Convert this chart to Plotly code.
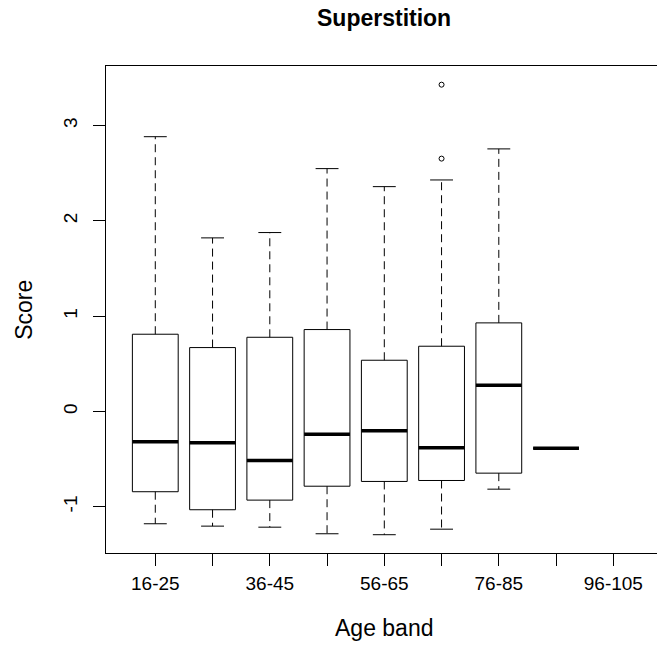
import plotly.graph_objects as go

# Age bands on the x axis (every band gets a tick, labels alternate)
age_bands = ["16-25", "26-35", "36-45", "46-55", "56-65",
             "66-75", "76-85", "86-95", "96-105"]

# Five-number summaries of the superstition score per age band
q1 = [-0.842, -1.031, -0.930, -0.784, -0.734, -0.724, -0.647, -0.385, None]
median = [-0.318, -0.328, -0.514, -0.238, -0.202, -0.381, 0.276, -0.385, None]
q3 = [0.811, 0.671, 0.779, 0.860, 0.538, 0.685, 0.930, -0.385, None]
whisker_low = [-1.178, -1.203, -1.214, -1.283, -1.293, -1.235, -0.815, -0.385, None]
whisker_high = [2.884, 1.822, 1.878, 2.549, 2.360, 2.430, 2.756, -0.385, None]

# Outlying points (band index, score)
outlier_band = [5, 5]
outlier_score = [3.430, 2.654]

BOX_HALF = 0.4
CAP_HALF = 0.2
FONT = "Liberation Sans, Arial, Helvetica, sans-serif"

box_x, box_y = [], []
med_x, med_y = [], []
wh_x, wh_y = [], []
cap_x, cap_y = [], []

for i in range(len(age_bands)):
    if median[i] is None:
        continue
    c = i + 1
    l, r = c - BOX_HALF, c + BOX_HALF
    # box outline
    box_x += [l, r, r, l, l, None]
    box_y += [q1[i], q1[i], q3[i], q3[i], q1[i], None]
    # median bar
    med_x += [l, r, None]
    med_y += [median[i], median[i], None]
    # dashed whiskers with solid caps
    if whisker_high[i] > q3[i]:
        wh_x += [c, c, None]
        wh_y += [q3[i], whisker_high[i], None]
        cap_x += [c - CAP_HALF, c + CAP_HALF, None]
        cap_y += [whisker_high[i], whisker_high[i], None]
    if whisker_low[i] < q1[i]:
        wh_x += [c, c, None]
        wh_y += [q1[i], whisker_low[i], None]
        cap_x += [c - CAP_HALF, c + CAP_HALF, None]
        cap_y += [whisker_low[i], whisker_low[i], None]

fig = go.Figure()
fig.add_trace(go.Scatter(x=wh_x, y=wh_y, mode="lines",
                         line=dict(color="black", width=1, dash="8px,5px"),
                         hoverinfo="skip"))
fig.add_trace(go.Scatter(x=cap_x, y=cap_y, mode="lines",
                         line=dict(color="black", width=1), hoverinfo="skip"))
fig.add_trace(go.Scatter(x=box_x, y=box_y, mode="lines",
                         line=dict(color="black", width=1), hoverinfo="skip"))
fig.add_trace(go.Scatter(x=med_x, y=med_y, mode="lines",
                         line=dict(color="black", width=3.5), hoverinfo="skip"))
fig.add_trace(go.Scatter(x=[b + 1 for b in outlier_band], y=outlier_score,
                         mode="markers",
                         marker=dict(symbol="circle-open", size=5, color="black",
                                     line=dict(width=1, color="black")),
                         hoverinfo="skip"))

tick_text = [lab if k % 2 == 0 else "" for k, lab in enumerate(age_bands)]

fig.update_layout(
    width=657, height=652,
    margin=dict(l=106, r=0, t=66, b=99),
    paper_bgcolor="white", plot_bgcolor="white",
    showlegend=False,
    font=dict(family=FONT, color="black"),
    xaxis=dict(
        range=[0.139, 9.763],
        tickmode="array",
        tickvals=list(range(1, len(age_bands) + 1)),
        ticktext=tick_text,
        ticks="outside", ticklen=12, tickwidth=1, tickcolor="black",
        showline=True, linecolor="black", linewidth=1, mirror=True,
        showgrid=False, zeroline=False,
        tickfont=dict(size=19, family=FONT, color="black"),
        ticklabelstandoff=1,
    ),
    yaxis=dict(
        range=[-1.485, 3.626],
        tickmode="array",
        tickvals=[-1, 0, 1, 2, 3],
        ticktext=["-1", "0", "1", "2", "3"],
        tickangle=-90,
        ticks="outside", ticklen=12, tickwidth=1, tickcolor="black",
        showline=True, linecolor="black", linewidth=1, mirror=False,
        showgrid=False, zeroline=False,
        tickfont=dict(size=19, family=FONT, color="black"),
        ticklabelstandoff=8,
    ),
    annotations=[
        dict(text="<b>Superstition</b>", xref="paper", yref="paper",
             x=0.5045, y=1.098, xanchor="center", yanchor="middle",
             showarrow=False, font=dict(size=23, family=FONT, color="black")),
        dict(text="Age band", xref="paper", yref="paper",
             x=0.5045, y=-0.154, xanchor="center", yanchor="middle",
             showarrow=False, font=dict(size=23, family=FONT, color="black")),
        dict(text="Score", xref="paper", yref="paper",
             x=-0.150, y=0.5, xanchor="center", yanchor="middle",
             textangle=-90, showarrow=False,
             font=dict(size=23, family=FONT, color="black")),
    ],
)

fig.write_html("out.html")
